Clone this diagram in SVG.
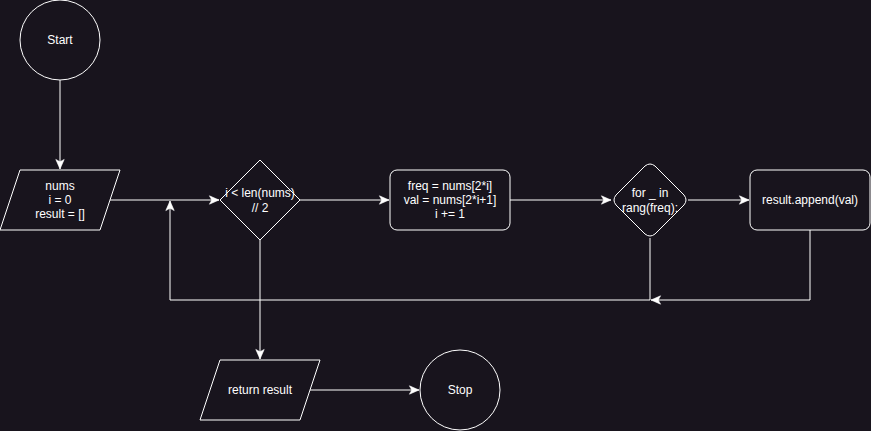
<svg xmlns="http://www.w3.org/2000/svg" width="871" height="431" viewBox="0 0 871 431">
  <style>
    .shape { fill: #18141d; stroke: #ffffff; stroke-width: 1; }
    .edge { fill: none; stroke: #ffffff; stroke-width: 1; }
    .label { font-family: "Liberation Sans", Arial, sans-serif; font-size: 12px; fill: #ffffff; text-anchor: middle; dominant-baseline: central; }
  </style>
  <defs>
    <marker id="arrow" markerUnits="userSpaceOnUse" markerWidth="12" markerHeight="12" viewBox="0 0 10 10" refX="9" refY="5" orient="auto">
      <path d="M1,1.5 L9,5 L1,8.5 L3,5 Z" fill="#ffffff" stroke="#ffffff" stroke-width="0.5"/>
    </marker>
  </defs>
  <rect width="871" height="431" fill="#18141d"/>

  <g id="connectors">
    <path class="edge" d="M60,80 L60,169" marker-end="url(#arrow)"/>
    <path class="edge" d="M110,200 L219,200" marker-end="url(#arrow)"/>
    <path class="edge" d="M300,200 L389,200" marker-end="url(#arrow)"/>
    <path class="edge" d="M510,200 L611,200" marker-end="url(#arrow)"/>
    <path class="edge" d="M688,200 L749,200" marker-end="url(#arrow)"/>
    <path class="edge" d="M650,238 L650,300 L170,300 L170,201" marker-end="url(#arrow)"/>
    <path class="edge" d="M810,230 L810,300 L651,300" marker-end="url(#arrow)"/>
    <path class="edge" d="M260,240 L260,359" marker-end="url(#arrow)"/>
    <path class="edge" d="M310,390 L419,390" marker-end="url(#arrow)"/>
  </g>

  <g id="start">
    <circle class="shape" cx="60" cy="40" r="40"/>
    <text class="label" x="60" y="40">Start</text>
  </g>

  <g id="input">
    <polygon class="shape" points="20,170 120,170 100,230 0,230"/>
    <text class="label" x="60" y="186">nums</text>
    <text class="label" x="60" y="200">i = 0</text>
    <text class="label" x="60" y="214">result = []</text>
  </g>

  <g id="while-cond">
    <polygon class="shape" points="260,160 300,200 260,240 220,200"/>
    <text class="label" x="260" y="193">i &lt; len(nums)</text>
    <text class="label" x="260" y="208">// 2</text>
  </g>

  <g id="assign">
    <rect class="shape" x="390" y="170" width="120" height="60" rx="7" ry="7"/>
    <text class="label" x="450" y="186">freq = nums[2*i]</text>
    <text class="label" x="450" y="200">val = nums[2*i+1]</text>
    <text class="label" x="450" y="214">i += 1</text>
  </g>

  <g id="for-loop">
    <path class="shape" d="M645,166 Q650,162 655,166 L684,195 Q688,200 684,205 L655,234 Q650,238 645,234 L616,205 Q612,200 616,195 Z"/>
    <text class="label" x="650" y="193">for _ in</text>
    <text class="label" x="650" y="208">rang(freq):</text>
  </g>

  <g id="append">
    <rect class="shape" x="750" y="170" width="120" height="60" rx="7" ry="7"/>
    <text class="label" x="810" y="200">result.append(val)</text>
  </g>

  <g id="output">
    <polygon class="shape" points="220,360 320,360 300,420 200,420"/>
    <text class="label" x="260" y="390">return result</text>
  </g>

  <g id="stop">
    <circle class="shape" cx="460" cy="390" r="40"/>
    <text class="label" x="460" y="390">Stop</text>
  </g>
</svg>
